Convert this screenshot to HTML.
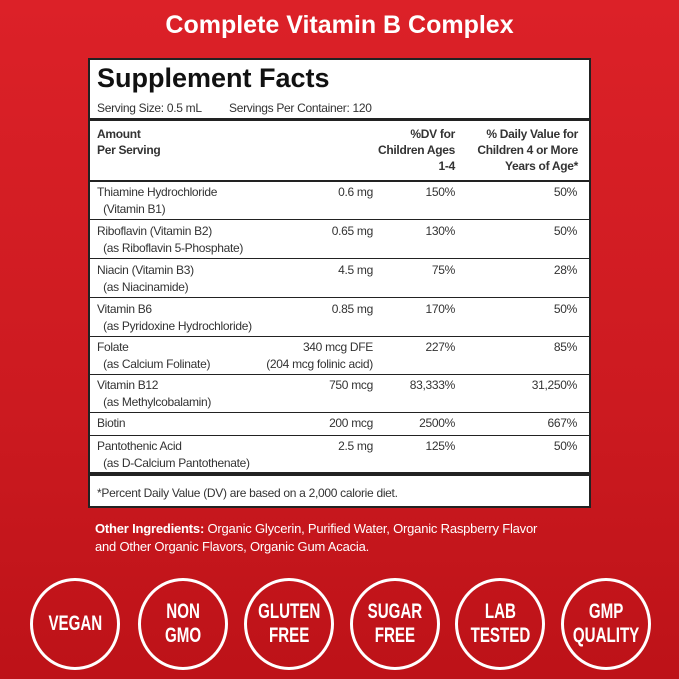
<!DOCTYPE html>
<html><head><style>
*{margin:0;padding:0;box-sizing:border-box}
body{width:679px;height:679px;overflow:hidden;background:linear-gradient(180deg,#dc2128 0%,#cc1a20 60%,#bd1218 100%);font-family:"Liberation Sans",sans-serif;position:relative;color:#222}
.t{position:absolute;white-space:nowrap}
#title{left:0;width:679px;top:11px;text-align:center;color:#fff;font-weight:bold;font-size:25px}
#box{position:absolute;left:88px;top:58px;width:503px;height:450px;background:#fff;border:2px solid #222}
.hr{position:absolute;left:0;width:499px;background:#222}
.s{font-size:12px;letter-spacing:-0.3px;color:#333;line-height:17px}
.r{text-align:right}
.c{position:absolute;width:90px;height:92px;border:3px solid #fff;border-radius:50%;top:578px;color:#fff;font-weight:bold;font-size:21px;text-align:center;display:flex;align-items:center;justify-content:center;line-height:24px}
.c span{display:inline-block;transform:scaleX(0.72);white-space:nowrap}
</style></head><body>
<div class="t" id="title">Complete Vitamin B Complex</div>
<div id="box">
<div class="t" style="left:7px;top:3px;font-size:27px;font-weight:bold;color:#111">Supplement Facts</div>
<div class="t s" style="left:7px;top:40px">Serving Size: 0.5 mL</div>
<div class="t s" style="left:139px;top:40px">Servings Per Container: 120</div>
<div class="hr" style="top:58px;height:3px"></div>
<div class="t s" style="left:7px;top:66px;font-weight:bold;line-height:16px">Amount<br>Per Serving</div>
<div class="t s r" style="right:134px;top:66px;font-weight:bold;line-height:16px">%DV for<br>Children Ages<br>1-4</div>
<div class="t s r" style="right:11px;top:66px;font-weight:bold;line-height:16px">% Daily Value for<br>Children 4 or More<br>Years of Age*</div>
<div class="hr" style="top:120px;height:2px"></div>

<div class="t s" style="left:7px;top:124px">Thiamine Hydrochloride<br>&nbsp;&nbsp;(Vitamin B1)</div>
<div class="t s r" style="right:216px;top:124px">0.6 mg</div><div class="t s r" style="right:134px;top:124px">150%</div><div class="t s r" style="right:12px;top:124px">50%</div>
<div class="hr" style="top:159px;height:1px"></div>

<div class="t s" style="left:7px;top:163px">Riboflavin (Vitamin B2)<br>&nbsp;&nbsp;(as Riboflavin 5-Phosphate)</div>
<div class="t s r" style="right:216px;top:163px">0.65 mg</div><div class="t s r" style="right:134px;top:163px">130%</div><div class="t s r" style="right:12px;top:163px">50%</div>
<div class="hr" style="top:198px;height:1px"></div>

<div class="t s" style="left:7px;top:202px">Niacin (Vitamin B3)<br>&nbsp;&nbsp;(as Niacinamide)</div>
<div class="t s r" style="right:216px;top:202px">4.5 mg</div><div class="t s r" style="right:134px;top:202px">75%</div><div class="t s r" style="right:12px;top:202px">28%</div>
<div class="hr" style="top:237px;height:1px"></div>

<div class="t s" style="left:7px;top:241px">Vitamin B6<br>&nbsp;&nbsp;(as Pyridoxine Hydrochloride)</div>
<div class="t s r" style="right:216px;top:241px">0.85 mg</div><div class="t s r" style="right:134px;top:241px">170%</div><div class="t s r" style="right:12px;top:241px">50%</div>
<div class="hr" style="top:276px;height:1px"></div>

<div class="t s" style="left:7px;top:279px">Folate<br>&nbsp;&nbsp;(as Calcium Folinate)</div>
<div class="t s r" style="right:216px;top:279px">340 mcg DFE<br>(204 mcg folinic acid)</div><div class="t s r" style="right:134px;top:279px">227%</div><div class="t s r" style="right:12px;top:279px">85%</div>
<div class="hr" style="top:314px;height:1px"></div>

<div class="t s" style="left:7px;top:317px">Vitamin B12<br>&nbsp;&nbsp;(as Methylcobalamin)</div>
<div class="t s r" style="right:216px;top:317px">750 mcg</div><div class="t s r" style="right:134px;top:317px">83,333%</div><div class="t s r" style="right:12px;top:317px">31,250%</div>
<div class="hr" style="top:352px;height:1px"></div>

<div class="t s" style="left:7px;top:355px">Biotin</div>
<div class="t s r" style="right:216px;top:355px">200 mcg</div><div class="t s r" style="right:134px;top:355px">2500%</div><div class="t s r" style="right:12px;top:355px">667%</div>
<div class="hr" style="top:375px;height:1px"></div>

<div class="t s" style="left:7px;top:378px">Pantothenic Acid<br>&nbsp;&nbsp;(as D-Calcium Pantothenate)</div>
<div class="t s r" style="right:216px;top:378px">2.5 mg</div><div class="t s r" style="right:134px;top:378px">125%</div><div class="t s r" style="right:12px;top:378px">50%</div>
<div class="hr" style="top:412px;height:4px"></div>

<div class="t s" style="left:7px;top:425px">*Percent Daily Value (DV) are based on a 2,000 calorie diet.</div>
</div>
<div class="t" style="left:95px;top:520px;color:#fff;font-size:13px;line-height:18px;letter-spacing:-0.2px"><b>Other Ingredients:</b> Organic Glycerin, Purified Water, Organic Raspberry Flavor<br>and Other Organic Flavors, Organic Gum Acacia.</div>
<div class="c" style="left:30px"><span>VEGAN</span></div>
<div class="c" style="left:138px"><span>NON<br>GMO</span></div>
<div class="c" style="left:244px"><span>GLUTEN<br>FREE</span></div>
<div class="c" style="left:350px"><span>SUGAR<br>FREE</span></div>
<div class="c" style="left:455px"><span>LAB<br>TESTED</span></div>
<div class="c" style="left:561px"><span>GMP<br>QUALITY</span></div>
</body></html>
